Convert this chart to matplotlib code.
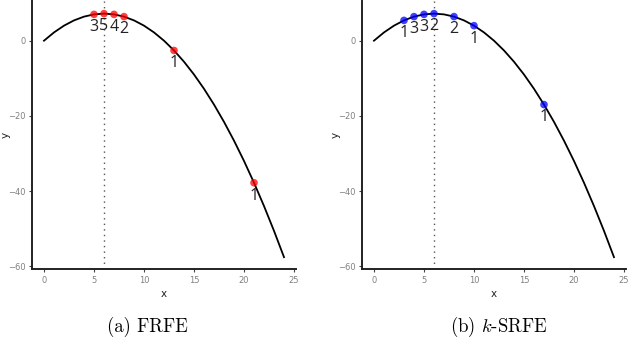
import matplotlib
matplotlib.use('Agg')
import matplotlib.pyplot as plt

plt.rcParams['mathtext.fontset'] = 'cm'

# 曲线
curve_x = list(range(0, 25))
curve_y = [0, 2.2, 4.0, 5.4, 6.4, 7.0, 7.2, 7.0, 6.4, 5.4, 4.0, 2.2, 0,
           -2.6, -5.6, -9.0, -12.8, -17.0, -21.6, -26.6, -32.0, -37.8,
           -44.0, -50.6, -57.6]
x_opt = 6

# (a) FRFE
frfe_x = [5, 6, 7, 8, 13, 21]
frfe_y = [7.0, 7.2, 7.0, 6.4, -2.6, -37.8]
frfe_lab = ['3', '5', '4', '2', '1', '1']

# (b) k-SRFE
ksrfe_x = [3, 4, 5, 6, 8, 10, 17]
ksrfe_y = [5.4, 6.4, 7.0, 7.2, 6.4, 4.0, -17.0]
ksrfe_lab = ['1', '3', '3', '2', '2', '1', '1']

xticks = [0, 5, 10, 15, 20, 25]
yticks = [0, -20, -40, -60]

fig = plt.figure(figsize=(6.4, 3.63), dpi=100)
ax1 = fig.add_axes([0.05, 0.258, 0.4125, 0.738])
ax2 = fig.add_axes([0.5656, 0.258, 0.4125, 0.738])

def draw(ax, px, py, labs, color):
    ax.plot(curve_x, curve_y, color='black', lw=1.3, zorder=2)
    ax.axvline(x_opt, color='#555555', lw=1.0, ls=(0, (1, 3)), zorder=1)
    ax.scatter(px, py, s=30, color=color, alpha=0.75, edgecolors='none', zorder=3)
    for xx, yy, t in zip(px, py, labs):
        ax.annotate(t, (xx, yy), xytext=(0, -3.5), textcoords='offset points',
                    ha='center', va='top', fontsize=11.5,
                    family='Open Sans', color='#222222')
    ax.set_xlim(-1.2, 25.2)
    ax.set_ylim(-60.84, 10.44)
    ax.set_xticks(xticks)
    ax.set_yticks(yticks)
    for s in ['top', 'right']:
        ax.spines[s].set_visible(False)
    for s in ['left', 'bottom']:
        ax.spines[s].set_linewidth(1.4)
        ax.spines[s].set_color('#222222')
    ax.tick_params(length=2.5, width=0.8, color='#444444', labelsize=6,
                   labelcolor='#808080', pad=2)
    ax.set_xlabel('x', fontsize=7.5, labelpad=3, color='#222222')
    ax.set_ylabel('y', fontsize=7.5, color='#222222')
    ax.yaxis.set_label_coords(-0.08, 0.5)

draw(ax1, frfe_x, frfe_y, frfe_lab, '#ff0000')
draw(ax2, ksrfe_x, ksrfe_y, ksrfe_lab, '#0000ff')

fig.text(0.231, 0.1, '(a) FRFE', ha='center', va='center',
         fontsize=13.5, family='cmr10')
fig.text(0.78, 0.1, r'(b) $k$-SRFE', ha='center', va='center',
         fontsize=13.5, family='cmr10')

fig.savefig('out.png', dpi=100)
